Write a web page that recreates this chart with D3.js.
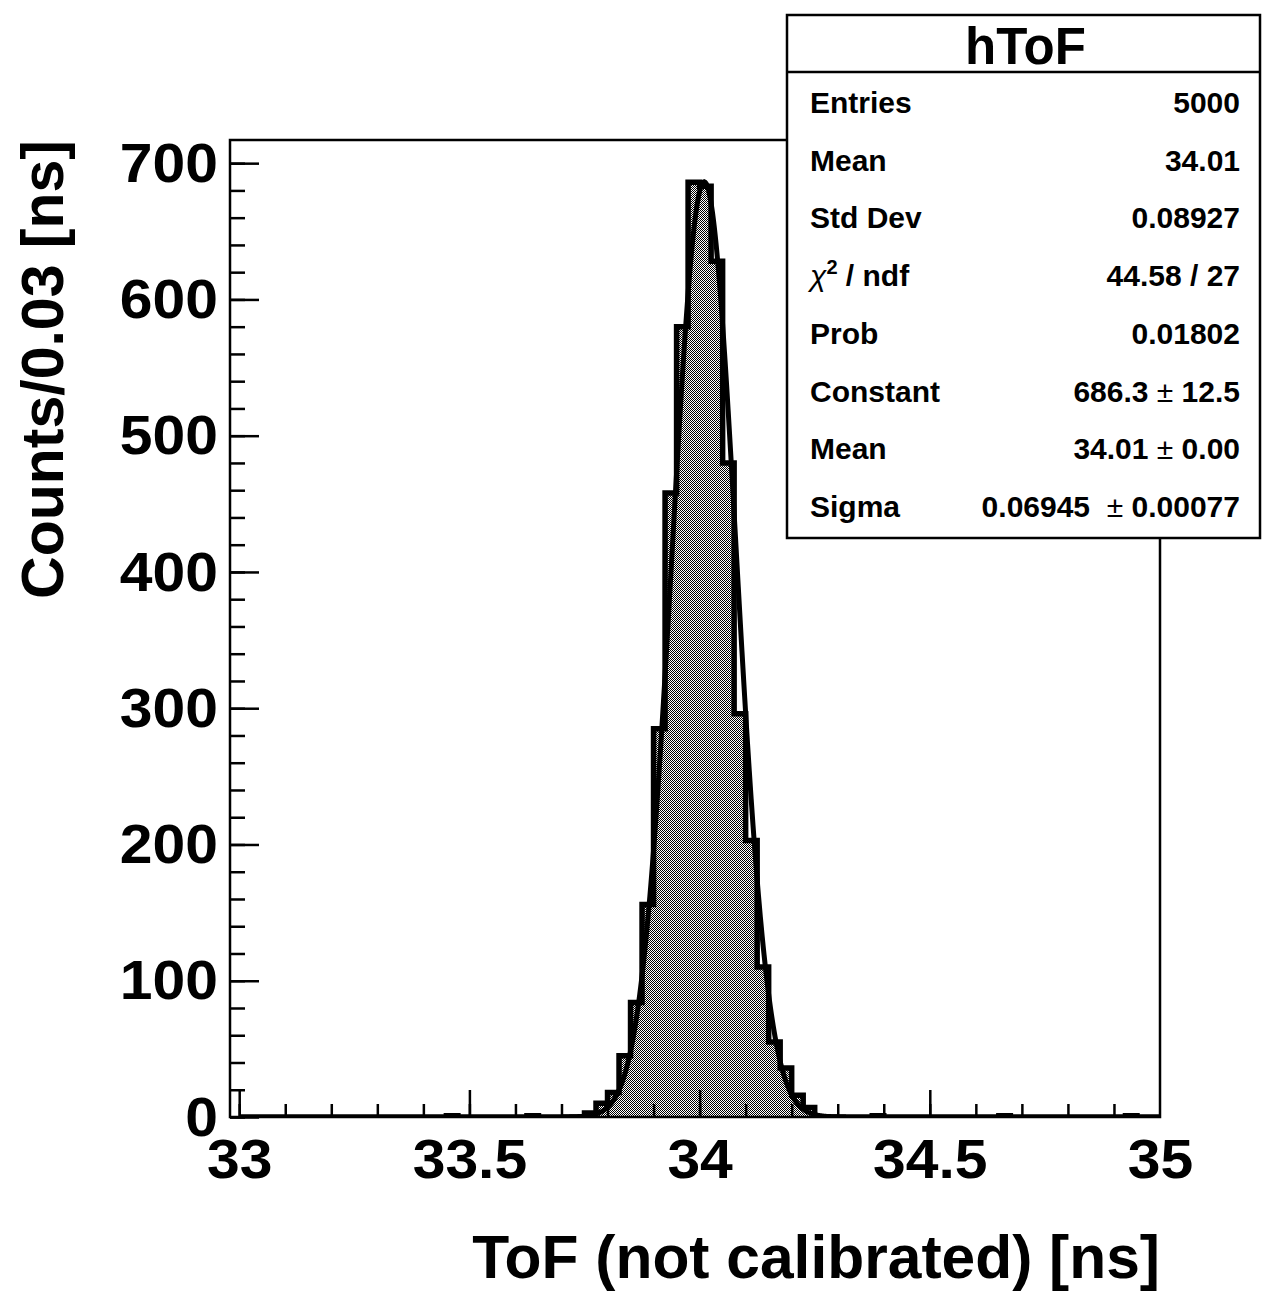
<!DOCTYPE html>
<html>
<head>
<meta charset="utf-8">
<script src="https://cdn.jsdelivr.net/npm/d3@7"></script>
<style>
  body { margin: 0; background: #fff; }
  svg { display: block; }
  text { font-family: "Liberation Sans", Arial, Helvetica, sans-serif; font-weight: bold; }
</style>
</head>
<body>
<script>
// histogram hToF : 80 bins of 0.025 ns from 33.0 to 35.0
const binLow = 33.0
const binWidth = 0.025
const counts = [
  0, 0, 0, 0, 0, 0, 0, 0, 0, 0,
  0, 0, 0, 0, 0, 0, 0, 0, 1, 0,
  0, 0, 0, 0, 0, 1, 0, 0, 0, 0,
  3, 10, 18, 45, 84, 156, 285, 458, 580, 686,
  683, 628, 480, 296, 203, 110, 55, 36, 16, 7,
  0, 0, 0, 0, 0, 1, 0, 0, 0, 0,
  0, 0, 0, 0, 0, 0, 1, 0, 0, 0,
  0, 0, 0, 0, 0, 0, 0, 1, 0, 0
]

// gaussian fit parameters (from the stats box)
const fitNames = ["Constant", "Mean", "Sigma"]
const fitValues = [686.3, 34.01, 0.06945]
const fitRange = [33.70, 34.32]

// stats box
const statsTitle = "hToF"
const statsLabels = ["Entries", "Mean", "Std Dev", "chi2", "Prob", "Constant", "Mean", "Sigma"]
const statsValues = ["5000", "34.01", "0.08927", "44.58 / 27", "0.01802", "686.3 ± 12.5", "34.01 ± 0.00", "0.06945  ± 0.00077"]

// axes
const xMajor = [33, 33.5, 34, 34.5, 35]
const xTickLabels = ["33", "33.5", "34", "34.5", "35"]
const xMinor = d3.range(33, 34.95, 0.1)
const yMajor = [0, 100, 200, 300, 400, 500, 600, 700]
const yMinor = d3.range(0, 701, 20)
const xTitle = "ToF (not calibrated) [ns]"
const yTitle = "Counts/0.03 [ns]"

const W = 1262, H = 1291
const frame = { left: 230, right: 1160, top: 140, bottom: 1117 }

const svg = d3.select("body").append("svg").attr("width", W).attr("height", H)

const x = d3.scaleLinear().domain([32.98, 35.0]).range([frame.left, frame.right])
const y = d3.scaleLinear().domain([0, 717]).range([frame.bottom, frame.top])

// fill pattern like ROOT 3001
const defs = svg.append("defs")
const pat = defs.append("pattern").attr("id", "chk")
  .attr("width", 2).attr("height", 2).attr("patternUnits", "userSpaceOnUse")
pat.append("rect").attr("width", 2).attr("height", 2).attr("fill", "#fff")
pat.append("rect").attr("width", 1).attr("height", 1).attr("fill", "#000")
pat.append("rect").attr("x", 1).attr("y", 1).attr("width", 1).attr("height", 1).attr("fill", "#000")

defs.append("clipPath").attr("id", "clip").append("rect")
  .attr("x", frame.left).attr("y", frame.top)
  .attr("width", frame.right - frame.left).attr("height", frame.bottom - frame.top)

// histogram
let bins = counts.map((c, i) => ({ x: binLow + i * binWidth, c: c }))
bins.push({ x: binLow + counts.length * binWidth, c: counts[counts.length - 1] })

const area = d3.area().curve(d3.curveStepAfter)
  .x(d => x(d.x)).y0(y(0)).y1(d => y(d.c))
const line = d3.line().curve(d3.curveStepAfter)
  .x(d => x(d.x)).y(d => y(d.c))

const plot = svg.append("g").attr("clip-path", "url(#clip)")
plot.append("path").datum(bins).attr("d", area).attr("fill", "url(#chk)")
plot.append("path").datum(bins).attr("d", line)
  .attr("fill", "none").attr("stroke", "#000").attr("stroke-width", 5.5)

// fit curve
const [A, mu, sg] = fitValues
const fx = d3.range(fitRange[0], fitRange[1], 0.002)
const fitPts = fx.map(v => [v, A * Math.exp(-0.5 * ((v - mu) / sg) ** 2)])
plot.append("path").datum(fitPts)
  .attr("d", d3.line().x(d => x(d[0])).y(d => y(d[1])))
  .attr("fill", "none").attr("stroke", "#000").attr("stroke-width", 5)

// frame
svg.append("rect").attr("x", frame.left).attr("y", frame.top)
  .attr("width", frame.right - frame.left).attr("height", frame.bottom - frame.top)
  .attr("fill", "none").attr("stroke", "#000").attr("stroke-width", 2.5)

// axes (ticks inside the frame, like ROOT)
function styleAxis(g, size) {
  g.select(".domain").remove()
  g.selectAll("line").attr("stroke", "#000").attr("stroke-width", 2.5)
  g.selectAll("text").attr("font-size", size).attr("fill", "#000")
    .attr("font-family", "Liberation Sans, Arial, sans-serif").attr("font-weight", "bold")
}

svg.append("g").attr("transform", `translate(0,${frame.bottom})`)
  .call(d3.axisBottom(x).tickValues(xMinor).tickSize(-13).tickFormat(""))
  .call(g => styleAxis(g, 0))
svg.append("g").attr("transform", `translate(0,${frame.bottom})`)
  .call(d3.axisBottom(x).tickValues(xMajor).tickSize(-27).tickPadding(22)
    .tickFormat((d, i) => xTickLabels[i]))
  .call(g => styleAxis(g, 55))
  .call(g => g.selectAll("text").attr("transform", "scale(1.07,1)"))
  .call(g => g.selectAll("line").filter(d => d > 34.99).remove())

svg.append("g").attr("transform", `translate(${frame.left},0)`)
  .call(d3.axisLeft(y).tickValues(yMinor).tickSize(-15).tickFormat(""))
  .call(g => styleAxis(g, 0))
svg.append("g").attr("transform", `translate(${frame.left},0)`)
  .call(d3.axisLeft(y).tickValues(yMajor).tickSize(-29).tickPadding(0).tickFormat(d3.format("d")))
  .call(g => styleAxis(g, 55))
  .call(g => g.selectAll("text").attr("x", 0).attr("dy", "0.33em")
    .attr("transform", "translate(-12,0) scale(1.07,1)"))

// axis titles
svg.append("text").attr("x", frame.right).attr("y", 1278)
  .attr("text-anchor", "end").attr("font-size", 60.5).text(xTitle)
svg.append("text").attr("transform", `translate(63,${frame.top}) rotate(-90)`)
  .attr("text-anchor", "end").attr("font-size", 59).text(yTitle)

// stats box
const box = { x: 787, y: 15, w: 473, h: 523, head: 57, row0: 113, step: 57.7 }
svg.append("rect").attr("x", box.x).attr("y", box.y).attr("width", box.w).attr("height", box.h)
  .attr("fill", "#fff").attr("stroke", "#000").attr("stroke-width", 2.5)
svg.append("line").attr("x1", box.x).attr("x2", box.x + box.w)
  .attr("y1", box.y + box.head).attr("y2", box.y + box.head)
  .attr("stroke", "#000").attr("stroke-width", 2.5)
svg.append("text").attr("x", box.x + box.w / 2 + 2).attr("y", 64)
  .attr("text-anchor", "middle").attr("font-size", 51).text(statsTitle)

statsLabels.forEach((lab, i) => {
  const yy = box.row0 + i * box.step
  const t = svg.append("text").attr("x", 810).attr("y", yy).attr("font-size", 30)
  if (lab === "chi2") {
    t.append("tspan").attr("font-weight", "normal").attr("font-style", "italic").text("χ")
    t.append("tspan").attr("font-size", 20).attr("dy", -12).text("2")
    t.append("tspan").attr("dy", 12).text(" / ndf")
  } else t.text(lab)

  const v = svg.append("text").attr("x", 1240).attr("y", yy).attr("font-size", 30)
    .attr("text-anchor", "end").style("white-space", "pre")
  const parts = statsValues[i].split("±")
  if (parts.length === 2) {
    v.append("tspan").text(parts[0])
    v.append("tspan").attr("font-weight", "normal").text("± ")
    v.append("tspan").text(parts[1].trim())
  } else v.text(statsValues[i])
})
</script>
</body>
</html>
